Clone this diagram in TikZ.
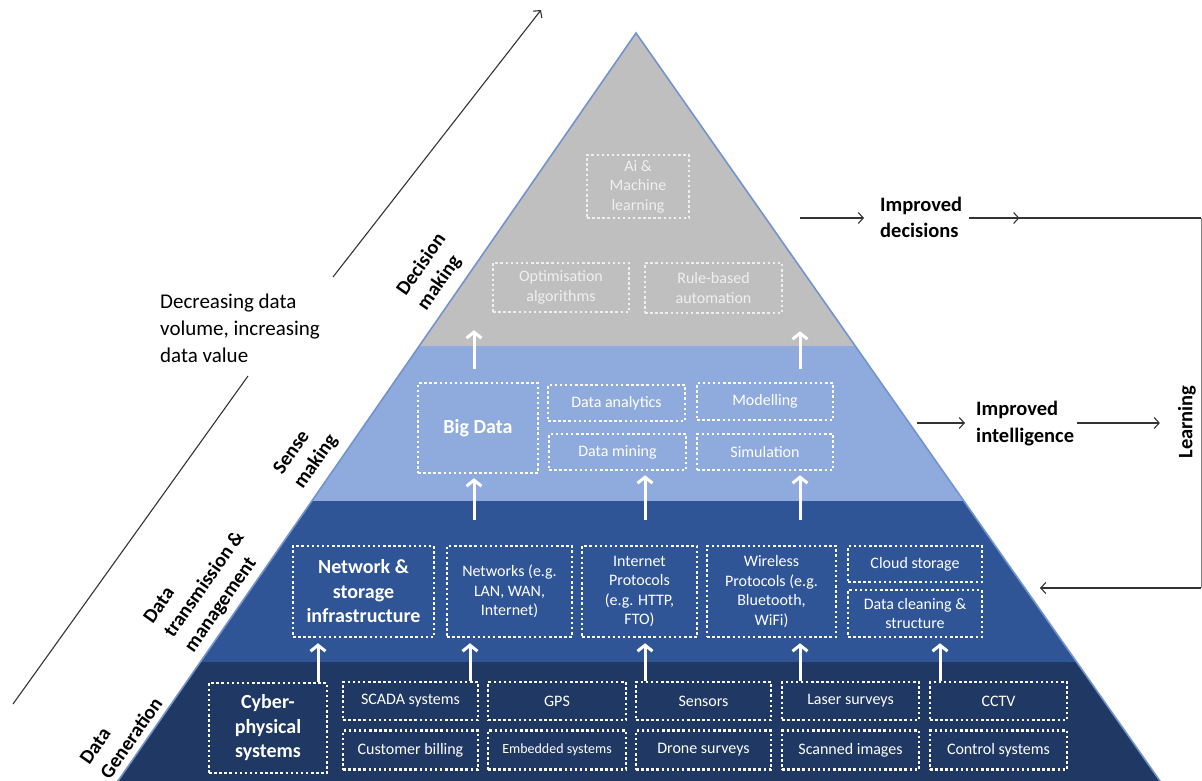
\documentclass[tikz,border=0pt]{standalone}
\usepackage{fontspec}
\setmainfont{Carlito}
\usetikzlibrary{arrows.meta}
\definecolor{lgray}{HTML}{BFBFBF}
\definecolor{lblue}{HTML}{8FAADC}
\definecolor{mblue}{HTML}{2F5597}
\definecolor{nblue}{HTML}{203864}
\definecolor{edgeblue}{HTML}{7393CF}
\definecolor{softwhite}{HTML}{EFEFEF}
\begin{document}
\begin{tikzpicture}[x=1pt,y=-1pt,
  box/.style={draw=white, line width=2.5pt, dash pattern=on 2.5pt off 2.6pt,
    text=white, align=center, inner sep=0pt,
    font=\fontsize{16}{19.5}\selectfont},
  graybox/.style={box, draw=softwhite, text=softwhite},
  boldbox/.style={box, font=\fontsize{20}{24.5}\selectfont\bfseries},
  uparr/.style={draw=white, line width=3pt, -{Straight Barb[length=6pt,width=15pt]}},
  blk/.style={draw=black!80, line width=1.1pt, -{Straight Barb[length=5pt,width=11pt]}},
  blkline/.style={draw=black!80, line width=1.1pt},
  layerlab/.style={rotate=55, align=left, inner sep=0pt,
    font=\fontsize{20}{25}\selectfont\bfseries},
  sidelab/.style={align=left, inner sep=0pt, font=\fontsize{20.5}{26.5}\selectfont\bfseries}
]
\useasboundingbox (0,0) rectangle (1202,781);
% pyramid
\coordinate (apex) at (636,33);
\coordinate (bl) at (111,791);
\coordinate (br) at (1167,791);
\begin{scope}
  \clip (bl) -- (apex) -- (br) -- cycle;
  \fill[lgray] (0,0) rectangle (1202,346);
  \fill[lblue] (0,346) rectangle (1202,501);
  \fill[mblue] (0,501) rectangle (1202,662);
  \fill[nblue] (0,662) rectangle (1202,800);
\end{scope}
\draw[edgeblue, line width=1.6pt] (bl) -- (apex) -- (br);

% decision making layer
\node[graybox, minimum width=102pt, minimum height=63pt] (ai) at (638,186.5) {Ai \&\\Machine\\learning};
\node[graybox, minimum width=136pt, minimum height=49pt] (opt) at (561,287.5) {Optimisation\\algorithms};
\node[graybox, minimum width=137pt, minimum height=50pt] (rule) at (713.5,288) {Rule-based\\automation};

% sense making layer
\node[boldbox, minimum width=120pt, minimum height=90pt] (bigdata) at (478,428) {Big Data};
\node[box, minimum width=137pt, minimum height=36pt] (analytics) at (616.5,403) {Data analytics};
\node[box, minimum width=137pt, minimum height=36pt] (mining) at (617.5,452) {Data mining};
\node[box, minimum width=136pt, minimum height=37pt] (modelling) at (765,401.5) {Modelling};
\node[box, minimum width=136pt, minimum height=36pt] (simulation) at (765,452) {Simulation};

% transmission layer
\node[boldbox, minimum width=141pt, minimum height=91pt] (netstore) at (363.5,591.5) {Network \&\\storage\\infrastructure};
\node[box, minimum width=125pt, minimum height=91pt] (networks) at (509.5,591.5) {Networks (e.g.\\LAN, WAN,\\Internet)};
\node[box, minimum width=115pt, minimum height=91pt] (internet) at (639.5,591.5) {Internet\\Protocols\\(e.g. HTTP,\\FTO)};
\node[box, minimum width=129pt, minimum height=91pt] (wireless) at (771.5,591.5) {Wireless\\Protocols (e.g.\\Bluetooth,\\WiFi)};
\node[box, minimum width=134pt, minimum height=36pt] (cloud) at (915,564) {Cloud storage};
\node[box, minimum width=134pt, minimum height=47pt] (cleaning) at (915,613.5) {Data cleaning \&\\structure};

% generation layer
\node[boldbox, minimum width=118pt, minimum height=90pt] (cyber) at (268,728) {Cyber-\\physical\\systems};
\node[box, minimum width=135pt, minimum height=38pt] (scada) at (410.5,701) {SCADA systems};
\node[box, minimum width=135pt, minimum height=39pt] (billing) at (410.5,750) {Customer billing};
\node[box, minimum width=138pt, minimum height=38pt] (gps) at (557,701) {GPS};
\node[box, minimum width=138pt, minimum height=39pt, font=\fontsize{14}{17}\selectfont] (embedded) at (557,750) {Embedded systems};
\node[box, minimum width=135pt, minimum height=38pt] (sensors) at (703.5,701) {Sensors};
\node[box, minimum width=135pt, minimum height=39pt] (drone) at (703.5,750) {Drone surveys};
\node[box, minimum width=137pt, minimum height=38pt] (laser) at (850.5,701) {Laser surveys};
\node[box, minimum width=137pt, minimum height=39pt] (scanned) at (850.5,750) {Scanned images};
\node[box, minimum width=137pt, minimum height=38pt] (cctv) at (998.5,701) {CCTV};
\node[box, minimum width=137pt, minimum height=39pt] (control) at (998.5,750) {Control systems};

% white upward arrows
\draw[uparr, shorten >=5pt] (cyber.north -| 318,0) -- (netstore.south -| 318,0);
\draw[uparr, shorten >=5pt] (scada.north -| 470,0) -- (networks.south -| 470,0);
\draw[uparr, shorten >=5pt] (sensors.north -| 645,0) -- (internet.south -| 645,0);
\draw[uparr, shorten >=5pt] (laser.north -| 800,0) -- (wireless.south -| 800,0);
\draw[uparr, shorten >=5pt] (cctv.north -| 940,0) -- (cleaning.south -| 940,0);

\draw[uparr, shorten <=25pt, shorten >=4pt] (networks.north -| 474,0) -- (bigdata.south -| 474,0);
\draw[uparr, shorten <=25pt, shorten >=4pt] (internet.north -| 645,0) -- (mining.south -| 645,0);
\draw[uparr, shorten <=25pt, shorten >=4pt] (wireless.north -| 800,0) -- (simulation.south -| 800,0);

\draw[uparr, shorten <=13pt, shorten >=17pt] (bigdata.north -| 474,0) -- (opt.south -| 474,0);
\draw[uparr, shorten <=13pt, shorten >=17pt] (modelling.north -| 800,0) -- (rule.south -| 800,0);

% layer labels
\node[layerlab] (lab1) at (432,272) {Decision\\making};
\node[layerlab] (lab2) at (306,455) {Sense\\making};
\node[layerlab] (lab3) at (205,585) {Data\\transmission \&\\management};
\node[layerlab] (lab4) at (121,731) {Data\\Generation};

% left diagonal arrow and text
\node[align=left, inner sep=0pt, anchor=west, font=\fontsize{21}{27}\selectfont] (dectxt) at (160,328)
  {Decreasing data\\volume, increasing\\data value};
\coordinate (d1) at (13,704);
\coordinate (d2) at (248,376);
\coordinate (d3) at (333,277);
\coordinate (d4) at (541,10);
\draw[blkline] (d1) -- (d2);
\draw[blk] (d3) -- (d4);

% right side
\node[sidelab, anchor=west] (impdec) at (880,217.5) {Improved\\decisions};
\node[sidelab, anchor=west] (impint) at (976,423.5) {Improved\\intelligence};
\node[rotate=90, inner sep=0pt, font=\fontsize{20.5}{25}\selectfont\bfseries] (learn) at (1187,422) {Learning};
\coordinate (a1) at (800,218);
\coordinate (a2) at (917,423);
\coordinate (dR) at (1201,218);
\coordinate (bR) at (1201,588);
\coordinate (bE) at (1040,588);
\draw[blk, shorten >=16pt] (a1) -- (impdec.west |- a1);
\draw[blkline] (impdec.east |- a1) ++(7,0) -- (dR);
\draw[blk] (impdec.east |- a1) ++(7,0) -- ++(50,0);
\draw[blk, shorten >=11pt] (a2) -- (impint.west |- a2);
\draw[blk, shorten <=3pt, shorten >=18pt] (impint.east |- a2) -- (learn.north |- a2);
\draw[draw=black!50, line width=0.8pt] (dR) -- (bR);
\draw[blk] (bR) -- (bE);
\end{tikzpicture}
\end{document}
